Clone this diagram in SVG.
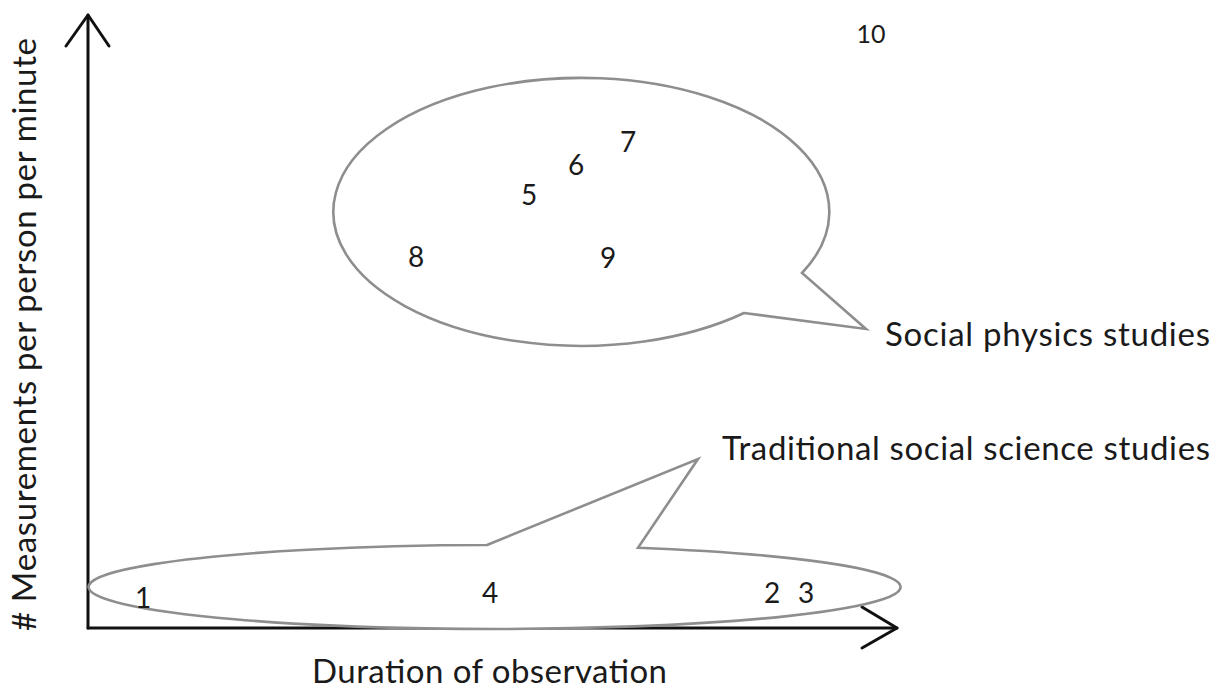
<svg xmlns="http://www.w3.org/2000/svg" width="1218" height="689" viewBox="0 0 1218 689">
  <style>
    .axis { fill: none; stroke: #111; stroke-width: 3; stroke-linecap: round; stroke-linejoin: round; }
    .bubble { fill: #fff; stroke: #8e8e8e; stroke-width: 2.6; stroke-linejoin: miter; }
    .label { font-family: Lato, "Liberation Sans", Arial, sans-serif; font-size: 33px; fill: #1a1a1a; }
    .num { font-family: Lato, "Liberation Sans", Arial, sans-serif; font-size: 28px; fill: #1a1a1a; text-anchor: middle; }
  </style>
  <rect width="1218" height="689" fill="#fff"/>

  <g id="connectors">
    <g id="y-axis">
      <path class="axis" d="M88,628 L88,15"/>
      <path class="axis" d="M66,46 L88,15 L109,46"/>
    </g>
    <g id="x-axis">
      <path class="axis" d="M88,628 L897,628"/>
      <path class="axis" d="M862,607 L897,628 L862,648"/>
    </g>
  </g>

  <g id="bubble-traditional">
    <path class="bubble" d="M487,545 L698,459 L638,547.7 A406,42 0 1,1 487,545 Z"/>
    <text class="label" x="722" y="460" textLength="488">Traditional social science studies</text>
  </g>

  <g id="bubble-social-physics">
    <path class="bubble" d="M744,313 L866,329 L802,273 A248,134 0 1,0 744,313 Z"/>
    <text class="label" x="885" y="346" textLength="325">Social physics studies</text>
  </g>

  <g id="points">
    <text id="p1" class="num" x="143" y="608">1</text>
    <text id="p2" class="num" x="772" y="603">2</text>
    <text id="p3" class="num" x="806" y="603">3</text>
    <text id="p4" class="num" x="490" y="603">4</text>
    <text id="p5" class="num" x="529" y="205">5</text>
    <text id="p6" class="num" x="576" y="175">6</text>
    <text id="p7" class="num" x="628" y="152">7</text>
    <text id="p8" class="num" x="416" y="267">8</text>
    <text id="p9" class="num" x="608" y="268">9</text>
    <text id="p10" class="num" x="871" y="43" style="font-size:25px">10</text>
  </g>

  <g id="axis-labels">
    <text id="x-label" class="label" x="312" y="683" textLength="355">Duration of observation</text>
    <text id="y-label" class="label" transform="translate(36,631) rotate(-90)" x="0" y="0" textLength="593"># Measurements per person per minute</text>
  </g>
</svg>
